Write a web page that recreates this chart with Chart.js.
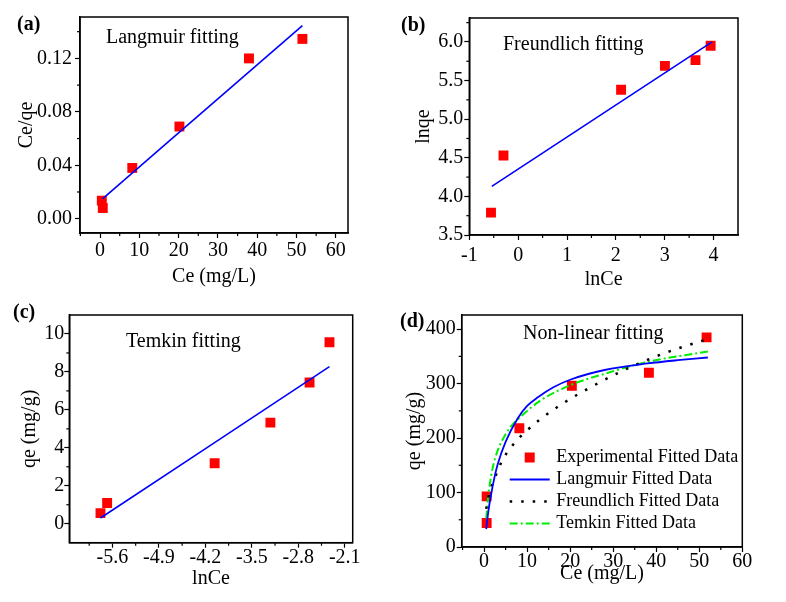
<!DOCTYPE html>
<html lang="en">
<head>
<meta charset="UTF-8">
<title>Isotherm fitting</title>
<script src="https://cdn.jsdelivr.net/npm/chart.js"></script>
<style>
  html, body { margin: 0; padding: 0; background: #fff; }
  #wrap { position: relative; width: 786px; height: 602px; }
  canvas { position: absolute; }
</style>
</head>
<body>
<div id="wrap">
  <canvas id="chartA" width="393" height="300" style="left:0;top:0"></canvas>
  <canvas id="chartB" width="393" height="300" style="left:393px;top:0"></canvas>
  <canvas id="chartC" width="393" height="302" style="left:0;top:300px"></canvas>
  <canvas id="chartD" width="393" height="302" style="left:393px;top:300px"></canvas>
</div>
<script>
// (a) Langmuir linear form
var ceA = [0.45, 0.7, 8.2, 20.2, 37.9, 51.5];
var ceqeA = [0.0135, 0.008, 0.038, 0.069, 0.120, 0.1346];
var fitXA = [0.7, 51.5];
var fitYA = [0.015, 0.1446];
var xTicksA = [0, 10, 20, 30, 40, 50, 60];
var yTicksA = [0, 0.04, 0.08, 0.12];

// (b) Freundlich linear form
var lnCeB = [-0.556, -0.30, 2.107, 3.004, 3.63, 3.94];
var lnqeB = [3.79, 4.53, 5.38, 5.69, 5.765, 5.95];
var fitXB = [-0.54, 3.97];
var fitYB = [4.13, 6.0];
var xTicksB = [-1, 0, 1, 2, 3, 4];
var yTicksB = [3.5, 4.0, 4.5, 5.0, 5.5, 6.0];

// (c) Temkin linear form
var lnCeC = [-5.78, -5.68, -4.06, -3.22, -2.63, -2.33];
var qeC = [0.56, 1.09, 3.19, 5.33, 7.44, 9.56];
var fitXC = [-5.78, -2.33];
var fitYC = [0.3, 8.28];
var xTicksC = [-5.6, -4.9, -4.2, -3.5, -2.8, -2.1];
var yTicksC = [0, 2, 4, 6, 8, 10];

// (d) non-linear fits
var ceD = [0.6, 0.6, 8.2, 20.4, 38.3, 51.7];
var qeD = [44, 93, 218, 296, 320, 385];
var langX = [0.5, 1, 1.6, 2.5, 3.2, 5, 7.8, 10, 12.5, 16, 20.3, 28, 38, 45, 52];
var langY = [33, 66, 95, 131, 153, 193, 236, 259, 275, 293, 308, 325, 337, 343, 348];
var freuX = [0.5, 1, 2.4, 4.3, 7.5, 9.4, 13.3, 18, 24.9, 32.3, 41.6, 52];
var freuY = [70, 92, 125, 160, 195, 210, 236, 262, 294, 324, 355, 382];
var temkX = [0.5, 0.8, 1.2, 2, 3.2, 5, 6.3, 8.6, 13.3, 20.3, 28, 38, 52];
var temkY = [52, 80, 108, 145, 178, 207, 222, 240, 270, 298, 318, 340, 359];
var xTicksD = [0, 10, 20, 30, 40, 50, 60];
var yTicksD = [0, 100, 200, 300, 400];

var serif = '"Times New Roman", "Liberation Serif", serif';

function pts(xs, ys) {
  return xs.map(function (x, i) { return { x: x, y: ys[i] }; });
}

function marks(label, xs, ys) {
  return {
    label: label, data: pts(xs, ys), showLine: false,
    pointStyle: 'rect', pointRadius: 7, pointHoverRadius: 7,
    backgroundColor: '#ff0000', borderColor: '#ff0000', borderWidth: 0
  };
}

function line(label, xs, ys, color, dash, width) {
  return {
    label: label, data: pts(xs, ys), showLine: true, pointRadius: 0,
    borderColor: color, backgroundColor: color, borderWidth: width || 1.6,
    borderDash: dash || [], cubicInterpolationMode: 'monotone', fill: false
  };
}

// frame, minor ticks, panel letters, notes and legend
var decor = {
  id: 'decor',
  afterDraw: function (chart) {
    var ctx = chart.ctx, a = chart.chartArea, o = chart.options.plugins.decor;
    ctx.save();
    ctx.strokeStyle = '#000';
    ctx.lineWidth = 1.5;
    ctx.strokeRect(a.left, a.top, a.right - a.left, a.bottom - a.top);

    ctx.lineWidth = 1.2;
    ['x', 'y'].forEach(function (k) {
      var s = chart.scales[k], t = s.ticks;
      var half = (t[1].value - t[0].value) / 2;
      var vals = [t[0].value - half];
      t.forEach(function (tk) { vals.push(tk.value + half); });
      vals.forEach(function (v) {
        if (v <= s.min + 1e-9 || v >= s.max - 1e-9) return;
        var p = s.getPixelForValue(v);
        ctx.beginPath();
        if (k === 'x') { ctx.moveTo(p, a.bottom); ctx.lineTo(p, a.bottom + 3); }
        else { ctx.moveTo(a.left, p); ctx.lineTo(a.left - 3, p); }
        ctx.stroke();
      });
    });

    ctx.fillStyle = '#000';
    ctx.textBaseline = 'middle';
    ctx.textAlign = 'left';
    ctx.font = 'bold 20px ' + serif;
    ctx.fillText(o.letter, o.letterX, o.letterY);
    ctx.font = '20px ' + serif;
    ctx.fillText(o.note, o.noteX, o.noteY);

    if (o.legend) {
      var L = o.legend;
      ctx.font = '18px ' + serif;
      L.items.forEach(function (name, i) {
        var ds = chart.data.datasets.find(function (d) { return d.label === name; });
        var y = L.y + i * L.dy;
        if (ds.showLine) {
          ctx.save();
          ctx.strokeStyle = ds.borderColor;
          ctx.lineWidth = ds.borderWidth;
          ctx.setLineDash(ds.borderDash);
          ctx.beginPath();
          ctx.moveTo(L.x, y);
          ctx.lineTo(L.x + L.len, y);
          ctx.stroke();
          ctx.restore();
        } else {
          ctx.fillStyle = ds.backgroundColor;
          ctx.fillRect(L.x + L.len / 2 - 5, y - 5, 10, 10);
        }
        ctx.fillStyle = '#000';
        ctx.fillText(name, L.textX, y);
      });
    }
    ctx.restore();
  }
};

function axis(p, horizontal) {
  return {
    type: 'linear', min: p.min, max: p.max,
    afterBuildTicks: function (s) { s.ticks = p.ticks.map(function (v) { return { value: v }; }); },
    afterFit: function (s) { if (horizontal) s.height = p.size; else s.width = p.size; },
    ticks: {
      color: '#000', padding: p.pad, autoSkip: false, maxRotation: 0,
      font: { family: serif, size: 20, lineHeight: 1 },
      callback: function (v) { return Number(v).toFixed(p.dec); }
    },
    grid: { drawOnChartArea: false, drawTicks: true, tickLength: 5, tickColor: '#000', tickWidth: 1.2 },
    border: { display: true, color: '#000', width: 1.5 },
    title: {
      display: true, text: p.title, color: '#000',
      font: { family: serif, size: 20, lineHeight: 1.2 },
      padding: horizontal ? { top: 0, bottom: p.titlePad } : { top: p.titlePad, bottom: 0 }
    }
  };
}

function panel(id, datasets, cfg) {
  var cv = document.getElementById(id);
  var W = cv.width, H = cv.height;
  cfg.x.size = H - cfg.box.b;
  cfg.y.size = cfg.box.l;
  return new Chart(cv.getContext('2d'), {
    type: 'scatter',
    data: { datasets: datasets },
    options: {
      responsive: false, animation: false,
      layout: { padding: { left: 0, top: cfg.box.t, right: W - cfg.box.r, bottom: 0 } },
      scales: { x: axis(cfg.x, true), y: axis(cfg.y, false) },
      plugins: { legend: { display: false }, tooltip: { enabled: false }, decor: cfg.decor }
    },
    plugins: [decor]
  });
}

panel('chartA', [
  line('Langmuir fit', fitXA, fitYA, '#0000ff'),
  marks('Experimental', ceA, ceqeA)
], {
  box: { l: 80, t: 17, r: 348, b: 233 },
  x: { min: -5.1, max: 63.1, ticks: xTicksA, dec: 0, pad: 3, title: 'Ce (mg/L)', titlePad: 11 },
  y: { min: -0.0107, max: 0.151, ticks: yTicksA, dec: 2, pad: 3, title: 'Ce/qe', titlePad: 14.5 },
  decor: { letter: '(a)', letterX: 17, letterY: 25, note: 'Langmuir fitting', noteX: 106, noteY: 38 }
});

panel('chartB', [
  line('Freundlich fit', fitXB, fitYB, '#0000ff'),
  marks('Experimental', lnCeB, lnqeB)
], {
  box: { l: 76.3, t: 18, r: 345, b: 235 },
  x: { min: -1, max: 4.5, ticks: xTicksB, dec: 0, pad: 6, title: 'lnCe', titlePad: 8 },
  y: { min: 3.5, max: 6.31, ticks: yTicksB, dec: 1, pad: 1, title: 'lnqe', titlePad: 19 },
  decor: { letter: '(b)', letterX: 8, letterY: 25.5, note: 'Freundlich fitting', noteX: 110, noteY: 45 }
});

panel('chartC', [
  line('Temkin fit', fitXC, fitYC, '#0000ff'),
  marks('Experimental', lnCeC, qeC)
], {
  box: { l: 69.3, t: 15, r: 352.7, b: 242.7 },
  x: { min: -6.25, max: -1.98, ticks: xTicksC, dec: 1, pad: 0, title: 'lnCe', titlePad: 11.5 },
  y: { min: -1, max: 11, ticks: yTicksC, dec: 0, pad: 0, title: 'qe (mg/g)', titlePad: 18 },
  decor: { letter: '(c)', letterX: 13, letterY: 12.5, note: 'Temkin fitting', noteX: 126, noteY: 41.7 }
});

panel('chartD', [
  line('Langmuir Fitted Data', langX, langY, '#0000ff', [], 1.8),
  line('Freundlich Fitted Data', freuX, freuY, '#000000', [2.5, 9], 2.5),
  line('Temkin Fitted Data', temkX, temkY, '#00ee00', [8, 3, 2, 3], 2),
  marks('Experimental Fitted Data', ceD, qeD)
], {
  box: { l: 68.7, t: 15, r: 349.3, b: 247 },
  x: { min: -5.2, max: 60, ticks: xTicksD, dec: 0, pad: 0, title: 'Ce (mg/L)', titlePad: 16.5 },
  y: { min: 0, max: 426, ticks: yTicksD, dec: 0, pad: 1, title: 'qe (mg/g)', titlePad: 9.5 },
  decor: {
    letter: '(d)', letterX: 7, letterY: 22, note: 'Non-linear fitting', noteX: 130, noteY: 33.7,
    legend: {
      x: 116.7, len: 40, textX: 163.3, y: 157.5, dy: 22,
      items: ['Experimental Fitted Data', 'Langmuir Fitted Data', 'Freundlich Fitted Data', 'Temkin Fitted Data']
    }
  }
});
</script>
</body>
</html>
